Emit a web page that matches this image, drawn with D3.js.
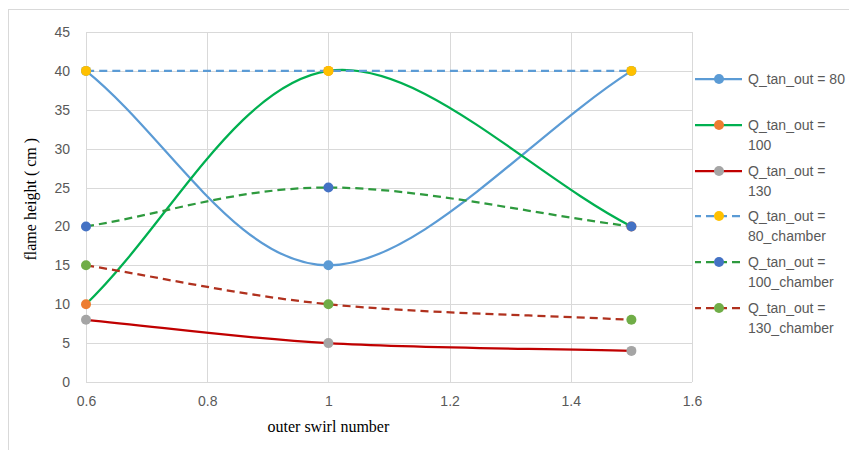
<!DOCTYPE html>
<html><head><meta charset="utf-8">
<script src="https://cdn.jsdelivr.net/npm/d3@7"></script>
<style>body{margin:0;background:#fff}svg{display:block}</style>
</head><body>
<script>
const xValues = [0.6, 1.0, 1.5];
const xTicks = [0.6, 0.8, 1, 1.2, 1.4, 1.6];
const yTicks = [0, 5, 10, 15, 20, 25, 30, 35, 40, 45];
const seriesNames = ["Q_tan_out = 80", "Q_tan_out = 100", "Q_tan_out = 130",
  "Q_tan_out = 80_chamber", "Q_tan_out = 100_chamber", "Q_tan_out = 130_chamber"];
const legendLines = [["Q_tan_out = 80"], ["Q_tan_out =", "100"], ["Q_tan_out =", "130"],
  ["Q_tan_out =", "80_chamber"], ["Q_tan_out =", "100_chamber"], ["Q_tan_out =", "130_chamber"]];
const q80 = [40, 15, 40];
const q100 = [10, 40, 20];
const q130 = [8, 5, 4];
const q80c = [40, 40, 40];
const q100c = [20, 25, 20];
const q130c = [15, 10, 8];
const seriesValues = [q80, q100, q130, q80c, q100c, q130c];
const lineColors = ["#5B9BD5", "#00B050", "#C00000", "#5B9BD5", "#2E9A3E", "#B0311E"];
const markerColors = ["#5B9BD5", "#ED7D31", "#A5A5A5", "#FFC000", "#4472C4", "#70AD47"];
const dashed = [false, false, false, true, true, true];

const W = 849, H = 450;
const svg = d3.select("body").append("svg").attr("width", W).attr("height", H);
svg.append("rect").attr("width", W).attr("height", H).attr("fill", "#fff");
svg.append("rect").attr("x", 8.5).attr("y", 9.5).attr("width", 900).attr("height", 600)
  .attr("fill", "none").attr("stroke", "#d9d9d9").attr("stroke-width", 1);

const x = d3.scaleLinear().domain([0.6, 1.6]).range([86, 692]);
const y = d3.scaleLinear().domain([0, 45]).range([382, 32]);

// gridlines
const g = svg.append("g");
g.selectAll(".vg").data(xTicks).join("line")
  .attr("x1", d => Math.round(x(d)) + 0.5).attr("x2", d => Math.round(x(d)) + 0.5)
  .attr("y1", y(45)).attr("y2", y(0)).attr("stroke", "#d9d9d9").attr("stroke-width", 1);
g.selectAll(".hg").data(yTicks).join("line")
  .attr("y1", d => Math.round(y(d)) + 0.5).attr("y2", d => Math.round(y(d)) + 0.5)
  .attr("x1", x(0.6)).attr("x2", x(1.6)).attr("stroke", "#d9d9d9").attr("stroke-width", 1);

// axes
const xAxis = svg.append("g").attr("transform", `translate(0,${y(0)})`)
  .call(d3.axisBottom(x).tickValues(xTicks).tickSize(0).tickPadding(14).tickFormat(d3.format("")));
xAxis.select(".domain").remove();
xAxis.selectAll("text").attr("fill", "#595959").style("font-family", "'Liberation Sans', Arial, sans-serif").style("font-size", "14px");
const yAxis = svg.append("g").attr("transform", `translate(${x(0.6)},0)`)
  .call(d3.axisLeft(y).tickValues(yTicks).tickSize(0).tickPadding(16));
yAxis.select(".domain").remove();
yAxis.selectAll("text").attr("fill", "#595959").style("font-family", "'Liberation Sans', Arial, sans-serif").style("font-size", "14px");

// axis titles
svg.append("text").attr("x", x(1.0)).attr("y", 432).attr("text-anchor", "middle")
  .style("font-family", "'Liberation Serif', 'Times New Roman', serif").style("font-size", "16px")
  .attr("fill", "#000").text("outer swirl number");
svg.append("text").attr("transform", `translate(36,${y(23.5)}) rotate(-90)`).attr("text-anchor", "middle")
  .style("font-family", "'Liberation Serif', 'Times New Roman', serif").style("font-size", "16px")
  .attr("fill", "#000").text("flame height ( cm )");

// Excel-style smoothed line: Catmull-Rom interior tangents, endpoint control at 1/3 of chord
function excelSmooth(context) {
  let pts;
  return {
    areaStart() {}, areaEnd() {},
    lineStart() { pts = []; },
    point(px, py) { pts.push([+px, +py]); },
    lineEnd() {
      const n = pts.length;
      if (!n) return;
      context.moveTo(pts[0][0], pts[0][1]);
      for (let i = 0; i < n - 1; i++) {
        const p0 = pts[i], p1 = pts[i + 1];
        let c1, c2;
        if (i === 0) c1 = [p0[0] + (p1[0] - p0[0]) / 3, p0[1] + (p1[1] - p0[1]) / 3];
        else { const pm = pts[i - 1]; c1 = [p0[0] + (p1[0] - pm[0]) / 6, p0[1] + (p1[1] - pm[1]) / 6]; }
        if (i === n - 2) c2 = [p1[0] - (p1[0] - p0[0]) / 3, p1[1] - (p1[1] - p0[1]) / 3];
        else { const pn = pts[i + 2]; c2 = [p1[0] - (pn[0] - p0[0]) / 6, p1[1] - (pn[1] - p0[1]) / 6]; }
        context.bezierCurveTo(c1[0], c1[1], c2[0], c2[1], p1[0], p1[1]);
      }
    }
  };
}

const line = d3.line().x(d => x(d[0])).y(d => y(d[1])).curve(excelSmooth);
const plot = svg.append("g");
seriesValues.forEach((vals, i) => {
  const pts = vals.map((v, j) => [xValues[j], v]);
  plot.append("path").datum(pts).attr("d", line).attr("fill", "none")
    .attr("stroke", lineColors[i]).attr("stroke-width", 2.25)
    .attr("stroke-dasharray", dashed[i] ? "8,5" : null);
});
seriesValues.forEach((vals, i) => {
  const pts = vals.map((v, j) => [xValues[j], v]);
  plot.selectAll(null).data(pts).join("circle")
    .attr("cx", d => x(d[0])).attr("cy", d => y(d[1])).attr("r", 5)
    .attr("fill", markerColors[i]);
});

// legend
const legY = [79, 125, 171, 216, 262, 308];
const leg = svg.append("g");
seriesNames.forEach((name, i) => {
  const gy = legY[i];
  leg.append("line").attr("x1", 695).attr("x2", 742).attr("y1", gy).attr("y2", gy)
    .attr("stroke", lineColors[i]).attr("stroke-width", 2.25)
    .attr("stroke-dasharray", dashed[i] ? "8,5" : null)
    .attr("stroke-dashoffset", dashed[i] ? 2 : null);
  leg.append("circle").attr("cx", 719).attr("cy", gy).attr("r", 5).attr("fill", markerColors[i]);
  const t = leg.append("text").attr("x", 748).attr("y", gy + 5)
    .style("font-family", "'Liberation Sans', Arial, sans-serif").style("font-size", "14px").attr("fill", "#595959");
  legendLines[i].forEach((ln, k) => {
    t.append("tspan").attr("x", 748).attr("dy", k === 0 ? 0 : 20).text(ln);
  });
});
</script>
</body></html>
